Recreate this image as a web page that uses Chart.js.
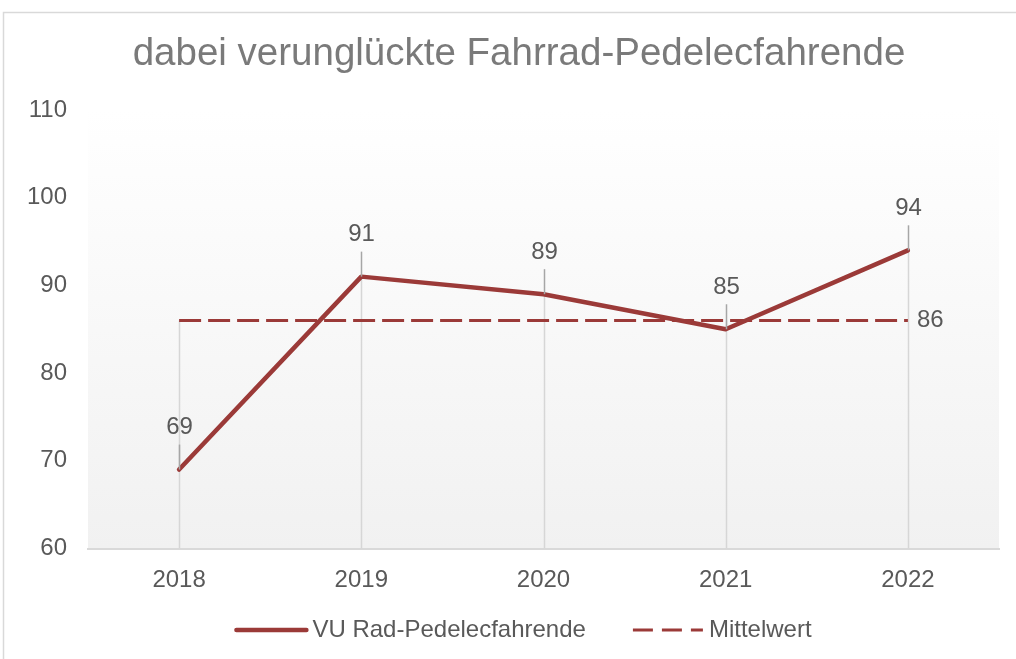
<!DOCTYPE html>
<html>
<head>
<meta charset="utf-8">
<script src="https://cdn.jsdelivr.net/npm/chart.js@4.4.1/dist/chart.umd.min.js"></script>
<style>
  html, body { margin: 0; padding: 0; background: #fff; }
  canvas { display: block; }
</style>
</head>
<body>
<canvas id="c" width="1016" height="659"></canvas>
<script>
const titel = "dabei verunglückte Fahrrad-Pedelecfahrende";
const years = ["2018", "2019", "2020", "2021", "2022"];
const verunglueckte = [69, 91, 89, 85, 94];
const mittelwert = [86, 86, 86, 86, 86];
const yTicks = [60, 70, 80, 90, 100, 110];

const rot = "#9b3a38";
const grau = "#595959";
const font = "'Liberation Sans', Arial, sans-serif";

// rahmen + hintergrund + titel
const background = {
  id: "background",
  beforeDraw(chart) {
    const { ctx, chartArea: a } = chart;
    ctx.save();
    ctx.strokeStyle = "#d9d9d9";
    ctx.lineWidth = 1.5;
    ctx.beginPath();
    ctx.moveTo(3.5, chart.height);
    ctx.lineTo(3.5, 12.5);
    ctx.lineTo(chart.width, 12.5);
    ctx.stroke();
    const g = ctx.createLinearGradient(0, a.top, 0, a.bottom);
    g.addColorStop(0, "#ffffff");
    g.addColorStop(1, "#f1f1f1");
    ctx.fillStyle = g;
    ctx.fillRect(a.left, a.top, a.right - a.left, a.bottom - a.top);
    ctx.font = "38.5px " + font;
    ctx.fillStyle = "#7a7a7a";
    ctx.textAlign = "center";
    ctx.textBaseline = "alphabetic";
    ctx.fillText(titel, 519, 65);
    ctx.restore();
  }
};

// senkrechte linien bis zur achse
const dropLines = {
  id: "dropLines",
  beforeDatasetsDraw(chart) {
    const { ctx, scales: { x, y } } = chart;
    ctx.save();
    ctx.strokeStyle = "#d6d6d6";
    ctx.lineWidth = 1.5;
    years.forEach((yr, i) => {
      const top = Math.max(verunglueckte[i], mittelwert[i]);
      const px = Math.round(x.getPixelForValue(i)) + 0.5;
      ctx.beginPath();
      ctx.moveTo(px, y.getPixelForValue(top));
      ctx.lineTo(px, y.bottom);
      ctx.stroke();
    });
    ctx.restore();
  }
};

// werte beschriften
const valueLabels = {
  id: "valueLabels",
  afterDatasetsDraw(chart) {
    const { ctx, scales: { x, y } } = chart;
    ctx.save();
    ctx.font = "24px " + font;
    ctx.fillStyle = grau;
    ctx.textBaseline = "middle";
    verunglueckte.forEach((v, i) => {
      const px = Math.round(x.getPixelForValue(i)) + 0.5;
      const py = y.getPixelForValue(v);
      ctx.strokeStyle = "#a6a6a6";
      ctx.lineWidth = 1.5;
      ctx.beginPath();
      ctx.moveTo(px, py);
      ctx.lineTo(px, py - 25);
      ctx.stroke();
      ctx.textAlign = "center";
      ctx.fillText(String(v), px, py - 42);
    });
    const last = mittelwert.length - 1;
    ctx.textAlign = "left";
    ctx.fillText(String(mittelwert[last]), x.getPixelForValue(last) + 9, y.getPixelForValue(mittelwert[last]));
    ctx.restore();
  }
};

// legende unten
const legendBottom = {
  id: "legendBottom",
  afterDraw(chart) {
    const { ctx } = chart;
    const sets = chart.data.datasets;
    const lineLen = 70, gapText = 6, gapItem = 47, yMid = 630;
    ctx.save();
    ctx.font = "24px " + font;
    const widths = sets.map(d => lineLen + gapText + ctx.measureText(d.label).width);
    const total = widths.reduce((a, b) => a + b, 0) + gapItem * (sets.length - 1);
    let xPos = 524 - total / 2;
    sets.forEach((d, i) => {
      ctx.strokeStyle = d.borderColor;
      ctx.lineWidth = d.borderWidth;
      ctx.setLineDash(d.legendDash || []);
      ctx.lineCap = d.borderDash ? "butt" : "round";
      ctx.beginPath();
      ctx.moveTo(xPos, yMid);
      ctx.lineTo(xPos + lineLen, yMid);
      ctx.stroke();
      ctx.setLineDash([]);
      ctx.fillStyle = grau;
      ctx.textBaseline = "middle";
      ctx.textAlign = "left";
      ctx.fillText(d.label, xPos + lineLen + gapText, yMid);
      xPos += widths[i] + gapItem;
    });
    ctx.restore();
  }
};

new Chart(document.getElementById("c"), {
  type: "line",
  data: {
    labels: years,
    datasets: [{
      label: "VU Rad-Pedelecfahrende",
      data: verunglueckte,
      borderColor: rot,
      backgroundColor: rot,
      borderWidth: 4.5,
      pointRadius: 0,
      borderJoinStyle: "round",
      borderCapStyle: "round"
    }, {
      label: "Mittelwert",
      data: mittelwert,
      borderColor: rot,
      backgroundColor: rot,
      borderWidth: 3,
      borderDash: [22, 7],
      legendDash: [20, 9],
      pointRadius: 0
    }]
  },
  options: {
    responsive: false,
    animation: false,
    devicePixelRatio: 1,
    layout: { padding: { left: 0, right: 17, top: 110, bottom: 60.5 } },
    plugins: {
      title: { display: false },
      legend: { display: false },
      tooltip: { enabled: false }
    },
    scales: {
      x: {
        offset: true,
        afterFit(s) { s.height = 50; },
        grid: { display: false, drawTicks: false },
        border: { display: true, color: "#d9d9d9", width: 2 },
        ticks: { color: grau, font: { family: font, size: 24 }, padding: 17, maxRotation: 0 }
      },
      y: {
        min: 60,
        max: 110,
        afterFit(s) { s.width = 88; },
        afterBuildTicks(s) { s.ticks = yTicks.map(v => ({ value: v })); },
        grid: { display: false, drawTicks: false },
        border: { display: false },
        ticks: { color: grau, font: { family: font, size: 24 }, padding: 21 }
      }
    }
  },
  plugins: [background, dropLines, valueLabels, legendBottom]
});
</script>
</body>
</html>
